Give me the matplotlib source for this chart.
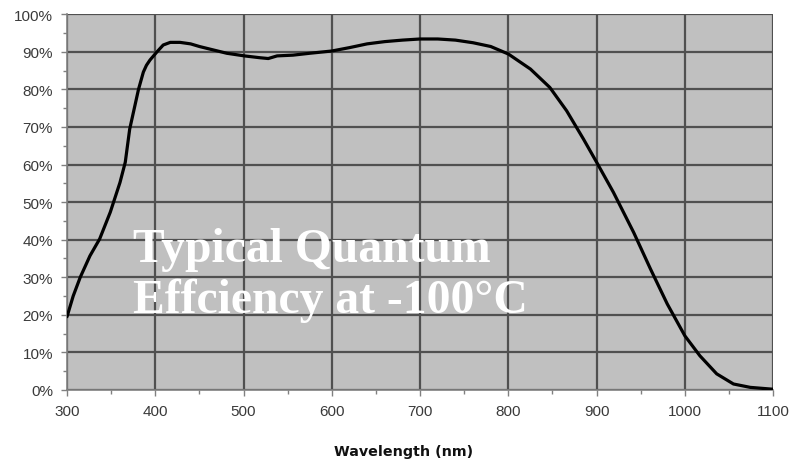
import numpy as np
import matplotlib
matplotlib.use("Agg")
import matplotlib.pyplot as plt
from matplotlib.ticker import MultipleLocator, FuncFormatter

# quantum efficiency curve (nm, %)
wavelength = [300, 307, 315, 326, 337, 349, 360, 366, 371, 376, 381, 386.5, 390,
              394, 402, 409, 417, 428, 440, 450, 462, 481, 501, 519, 528, 538,
              556, 575, 600, 620, 640, 660, 680, 700, 720, 740, 760, 780, 800,
              825, 847, 866, 885, 900, 919, 942, 961, 980, 1000, 1017, 1036,
              1055, 1074, 1100]
qe = [19.5, 25, 30, 35.7, 40.2, 47.3, 55.2, 60.6, 69.4, 74.7, 80, 84.6, 86.4,
      87.8, 90, 91.8, 92.5, 92.5, 92.1, 91.4, 90.7, 89.6, 88.9, 88.4, 88.2, 88.9,
      89.1, 89.6, 90.2, 91.1, 92.1, 92.7, 93.1, 93.4, 93.4, 93.1, 92.4, 91.4,
      89.4, 85.4, 80.5, 74.3, 66.8, 60.6, 52.6, 41.9, 32.2, 22.9, 14.4, 9.1,
      4.3, 1.6, 0.7, 0.2]

fig = plt.figure(figsize=(7.93, 4.60), dpi=100)
ax = fig.add_axes([0.0845, 0.15, 0.8905, 0.817])
ax.set_facecolor("#c0c0c0")

ax.plot(wavelength, qe, color="black", lw=2.3, solid_joinstyle="round",
        solid_capstyle="round", zorder=3)

ax.set_xlim(300, 1100)
ax.set_ylim(0, 100)
ax.xaxis.set_major_locator(MultipleLocator(100))
ax.xaxis.set_minor_locator(MultipleLocator(50))
ax.yaxis.set_major_locator(MultipleLocator(10))
ax.yaxis.set_minor_locator(MultipleLocator(5))
ax.yaxis.set_major_formatter(FuncFormatter(lambda v, p: f"{v:.0f}%"))

ax.grid(which="major", color="#505050", lw=1.6, zorder=1)
ax.set_axisbelow(True)
for side in ["top", "right"]:
    ax.spines[side].set_visible(False)
for side in ["left", "bottom"]:
    ax.spines[side].set_color("#808080")
    ax.spines[side].set_linewidth(1.2)

ax.tick_params(which="major", length=4, width=1, color="#808080", pad=6,
               labelsize=11, labelcolor="#3a3a3a")
ax.tick_params(which="minor", length=3, width=1, color="#808080")
for lab in ax.get_xticklabels() + ax.get_yticklabels():
    lab.set_fontfamily("Liberation Sans")

fig.text(404 / 793, 0.008, "Wavelength (nm)", ha="center", va="baseline",
         fontsize=10.3, fontweight="bold", family="DejaVu Sans", color="#111111")

fig.text(133 / 793, 1 - 313 / 460, "Typical Quantum\nEffciency at -100°C",
         ha="left", va="baseline", fontsize=34.3, fontweight="bold",
         family="Liberation Serif", color="white", linespacing=1.2, zorder=5)

fig.savefig("out.png", dpi=100)
